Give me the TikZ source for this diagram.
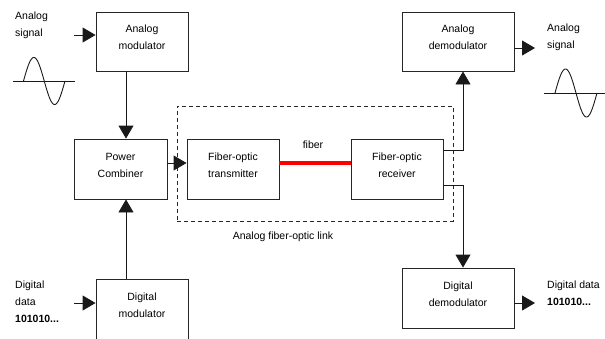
\documentclass[tikz,border=0pt]{standalone}
\usepackage{fontspec}
\setmainfont{Liberation Sans}
\usetikzlibrary{arrows.meta,calc}
\begin{document}
\begin{tikzpicture}[x=1pt,y=-1pt,
  every node/.style={font=\fontsize{10.5}{17}\selectfont, text=black},
  box/.style={draw=black!85, line width=0.9pt, inner sep=0pt},
  txt/.style={align=center, inner sep=0pt},
  side/.style={align=left, anchor=west, inner sep=0pt},
  wire/.style={draw=black!90, line width=0.9pt},
  arr/.style={wire, -{Triangle[length=13pt,width=15pt]}},
  wave/.style={draw=black!90, line width=0.9pt}]
\useasboundingbox (0,0) rectangle (605,338);
\clip (0,0) rectangle (605,338);

% blocks
\node[box, minimum width=92, minimum height=59] (am) at (142,41.5) {};
\node[txt, yshift=4pt] (amt) at (am) {Analog\\modulator};
\node[box, minimum width=93, minimum height=60] (pc) at (120.5,169) {};
\node[txt, yshift=4pt] (pct) at (pc) {Power\\Combiner};
\node[box, minimum width=92, minimum height=60] (tx) at (233,169) {};
\node[txt, yshift=4pt] (txt1) at (tx) {Fiber-optic\\transmitter};
\node[box, minimum width=92, minimum height=60] (rx) at (397,169) {};
\node[txt, yshift=4pt] (rxt) at (rx) {Fiber-optic\\receiver};
\node[box, minimum width=112, minimum height=59] (ad) at (458,41.5) {};
\node[txt, yshift=4pt] (adt) at (ad) {Analog\\demodulator};
\node[box, minimum width=112, minimum height=60] (dd) at (458,298) {};
\node[txt, yshift=4pt] (ddt) at (dd) {Digital\\demodulator};
\node[box, minimum width=92, minimum height=70, anchor=north] (dm) at (142,279) {};
\node[txt] (dmt) at (142,305) {Digital\\modulator};

% analog fiber-optic link frame
\node[draw=black!85, dashed, dash pattern=on 4pt off 3pt, line width=0.9pt,
      minimum width=276, minimum height=115, inner sep=0pt] (link) at (315,163.5) {};
\node[txt] (linkt) at (283,237) {Analog fiber-optic link};
\node[txt] (fibt) at (313,145) {fiber};

% side labels
\node[side] (ain) at (15,25) {Analog\\signal};
\node[side] (aout) at (547,37) {Analog\\signal};
\node[side] (din) at (15,301.5) {Digital\\data\\\textbf{101010...}};
\node[side] (dout) at (547,293) {Digital data\\\textbf{101010...}};

% helper coordinates
\coordinate (colA) at (126,0);
\coordinate (colB) at (463,0);
\coordinate (rowF) at (0,163);
\coordinate (rowU) at (0,150);
\coordinate (rowL) at (0,185);
\coordinate (inA) at (74,35);
\coordinate (inD) at (74,303);
\coordinate (outA) at (535,48);
\coordinate (outD) at (535,303);

% connectors
\draw[arr] (inA) -- (inA -| am.west);
\draw[arr] (inD) -- (inD -| dm.west);
\draw[arr] (am.south -| colA) -- (pc.north -| colA);
\draw[arr] (dm.north -| colA) -- (pc.south -| colA);
\draw[arr] (pc.east |- rowF) -- (tx.west |- rowF);
\draw[red, line width=3.5pt] (tx.east |- rowF) -- (rx.west |- rowF);
\draw[arr] (rx.east |- rowU) -| (ad.south -| colB);
\draw[arr] (rx.east |- rowL) -| (dd.north -| colB);
\draw[arr] (outA -| ad.east) -- (outA);
\draw[arr] (outD -| dd.east) -- (outD);

% sine waves
\draw[wave] (13,81) -- (75,81);
\draw[wave] plot[domain=0:360, samples=72, smooth] ({23.5+\x/360*41.5}, {81-23.5*sin(\x)});
\draw[wave] (544,93) -- (605,93);
\draw[wave] plot[domain=0:360, samples=72, smooth] ({555+\x/360*42}, {93-24*sin(\x)});
\end{tikzpicture}
\end{document}
